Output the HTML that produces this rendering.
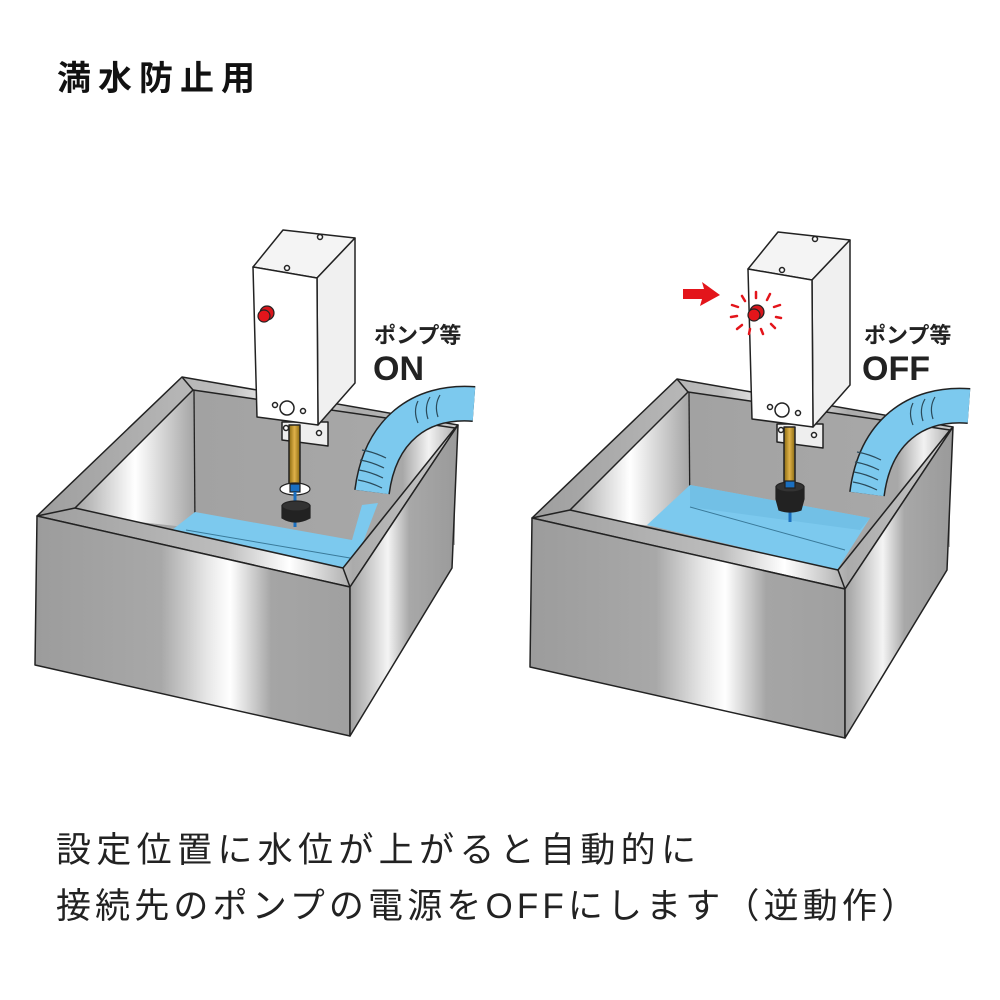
<!DOCTYPE html>
<html><head><meta charset="utf-8"><style>
html,body{margin:0;padding:0;background:#fff}
svg{display:block}
text{font-family:"Liberation Sans","Noto Sans CJK JP",sans-serif}
</style></head><body>
<svg width="1000" height="1000" viewBox="0 0 1000 1000" xmlns="http://www.w3.org/2000/svg">
<defs>
<linearGradient id="front" x1="0" y1="0" x2="1" y2="0">
<stop offset="0" stop-color="#9c9c9c"/><stop offset="0.4" stop-color="#a8a8a8"/><stop offset="0.55" stop-color="#e8e8e8"/><stop offset="0.62" stop-color="#ffffff"/><stop offset="0.75" stop-color="#a5a5a5"/><stop offset="1" stop-color="#a0a0a0"/>
</linearGradient>
<linearGradient id="side" x1="0" y1="0" x2="1" y2="0">
<stop offset="0" stop-color="#a0a0a0"/><stop offset="0.35" stop-color="#f4f4f4"/><stop offset="0.55" stop-color="#a8a8a8"/><stop offset="1" stop-color="#9a9a9a"/>
</linearGradient>
<linearGradient id="rim" x1="0" y1="0" x2="1" y2="0">
<stop offset="0" stop-color="#9e9e9e"/><stop offset="0.45" stop-color="#bdbdbd"/><stop offset="0.6" stop-color="#ffffff"/><stop offset="0.75" stop-color="#ababab"/><stop offset="1" stop-color="#c8c8c8"/>
</linearGradient>
<linearGradient id="lwall" x1="0" y1="0" x2="1" y2="0">
<stop offset="0" stop-color="#a4a4a4"/><stop offset="0.5" stop-color="#ffffff"/><stop offset="1" stop-color="#a4a4a4"/>
</linearGradient>
<linearGradient id="bwall" x1="0" y1="0" x2="1" y2="0">
<stop offset="0" stop-color="#a2a2a2"/><stop offset="0.8" stop-color="#a8a8a8"/><stop offset="0.9" stop-color="#f2f2f2"/><stop offset="1" stop-color="#b0b0b0"/>
</linearGradient>
<linearGradient id="gold" x1="0" y1="0" x2="1" y2="0">
<stop offset="0" stop-color="#8a6a10"/><stop offset="0.5" stop-color="#e0b24a"/><stop offset="1" stop-color="#8a6a10"/>
</linearGradient>
<g id="interior">
<polygon points="193,390 455,428 343,568 75,508" fill="#a5a5a5"/>
<polygon points="193,390 455,428 455,545 195,528" fill="url(#bwall)"/>
<polygon points="193,390 195,528 120,520 75,508" fill="url(#lwall)"/>
<line x1="194" y1="390" x2="195" y2="528" stroke="#222" stroke-width="1.3"/>
</g>
<g id="exterior" stroke="#222" stroke-width="1.5" stroke-linejoin="round">
<polygon points="182,377 458,425 455,428 193,390 75,508 343,568 455,428 458,425 350,587 37,516" fill="url(#rim)" fill-rule="evenodd"/>
<line x1="182" y1="377" x2="193" y2="390"/>
<line x1="37" y1="516" x2="75" y2="508"/>
<line x1="350" y1="587" x2="343" y2="568"/>
<polygon points="37,516 350,587 350,736 35,665" fill="url(#front)"/>
<polygon points="350,587 458,425 452,568 350,736" fill="url(#side)"/>
</g>
<g id="device" stroke="#222" stroke-width="1.5" stroke-linejoin="round">
<polygon points="282,422 328,422 328,446 282,440" fill="#eee"/>
<circle cx="286" cy="428" r="2.5" fill="#fff"/><circle cx="319" cy="433" r="2.5" fill="#fff"/>
<rect x="289" y="425" width="11" height="60" fill="url(#gold)"/>
<polygon points="253,267 283,230 355,238 317,278" fill="#f4f4f4"/>
<polygon points="317,278 355,238 355,383 318,425" fill="#f0f0f0"/>
<polygon points="253,267 317,278 318,425 257,417" fill="#fff"/>
<circle cx="320" cy="237" r="2.5" fill="#fff"/><circle cx="287" cy="268" r="2.5" fill="#fff"/>
<circle cx="287" cy="408" r="7" fill="#fff"/>
<circle cx="275" cy="405" r="2.5" fill="#fff"/><circle cx="303" cy="411" r="2.5" fill="#fff"/>
</g>
</defs>

<text x="57" y="90" font-size="34" font-weight="bold" fill="#111" textLength="198">満水防止用</text>

<!-- LEFT -->
<use href="#interior"/>
<polygon points="172,530 195,512 352,540 362,505 378,503 362,545 343,568" fill="#7cc9ee"/>
<line x1="186" y1="530" x2="350" y2="558" stroke="#3a7a9a" stroke-width="1"/>
<use href="#exterior"/>
<use href="#device"/>
<g stroke="#222" stroke-width="1.2">
<circle cx="267" cy="313" r="7" fill="#d9161c"/><circle cx="264" cy="316" r="6" fill="#e3151b"/>
<ellipse cx="295" cy="489" rx="15" ry="6" fill="#fff"/>
<rect x="290" y="484" width="10" height="8" fill="#1a6fc0"/>
<line x1="295" y1="492" x2="295" y2="527" stroke="#1a6fc0" stroke-width="3"/>
<path d="M282,506 L282,518 Q295,526 310,518 L310,506 Z" fill="#222"/>
<ellipse cx="296" cy="506" rx="14" ry="5" fill="#333"/>
</g>
<path d="M474,404 C420,400 380,430 372,492" fill="none" stroke="#222" stroke-width="36"/>
<path d="M474,404 C420,400 380,430 372,492" fill="none" stroke="#7cc9ee" stroke-width="33"/>
<g fill="none" stroke="#2a4a5a" stroke-width="1.2">
<path d="M440,395 q-6,10 -2,22"/><path d="M430,397 q-6,10 -2,22"/><path d="M418,401 q-5,10 0,22"/>
<path d="M362,450 q12,2 24,8"/><path d="M360,460 q12,2 24,8"/><path d="M359,470 q12,2 24,8"/><path d="M358,480 q12,2 24,8"/>
</g>
<text x="374" y="343" font-size="22" font-weight="bold" fill="#222">ポンプ等</text>
<text x="373" y="380" font-size="34" font-weight="bold" fill="#222">ON</text>

<!-- RIGHT -->
<g transform="translate(495,2)">
<use href="#interior"/>
<polygon points="152,523 195,483 375,516 342,568" fill="#7cc9ee"/>
<polygon points="195,483 375,516 365,528 195,505" fill="#72c0e6"/>
<line x1="195" y1="505" x2="350" y2="548" stroke="#3a7a9a" stroke-width="1"/>
<use href="#exterior"/>
<use href="#device"/>
<g stroke="#222" stroke-width="1.2">
<line x1="295" y1="505" x2="295" y2="520" stroke="#1a6fc0" stroke-width="3"/>
<path d="M281,485 L281,497 L284,508 Q295,512 306,508 L309,497 L309,485 Z" fill="#222"/>
<ellipse cx="295" cy="485" rx="14" ry="5" fill="#333"/>
<rect x="290" y="479" width="10" height="7" fill="#1a6fc0"/>
<circle cx="262" cy="310" r="7" fill="#d9161c"/><circle cx="259" cy="313" r="6" fill="#e3151b"/>
</g>
<g stroke="#e3151b" stroke-width="2.5" stroke-linecap="round">
<line x1="261" y1="290" x2="261" y2="296"/><line x1="247" y1="294" x2="250" y2="299"/><line x1="237" y1="303" x2="243" y2="305"/>
<line x1="236" y1="315" x2="242" y2="314"/><line x1="242" y1="327" x2="247" y2="323"/><line x1="254" y1="332" x2="255" y2="327"/>
<line x1="268" y1="332" x2="266" y2="327"/><line x1="280" y1="326" x2="276" y2="322"/><line x1="286" y1="316" x2="281" y2="315"/>
<line x1="285" y1="303" x2="279" y2="305"/><line x1="275" y1="292" x2="272" y2="298"/>
</g>
<path d="M474,404 C420,400 380,430 372,492" fill="none" stroke="#222" stroke-width="36"/>
<path d="M474,404 C420,400 380,430 372,492" fill="none" stroke="#7cc9ee" stroke-width="33"/>
<g fill="none" stroke="#2a4a5a" stroke-width="1.2">
<path d="M440,395 q-6,10 -2,22"/><path d="M430,397 q-6,10 -2,22"/><path d="M418,401 q-5,10 0,22"/>
<path d="M362,450 q12,2 24,8"/><path d="M360,460 q12,2 24,8"/><path d="M359,470 q12,2 24,8"/><path d="M358,480 q12,2 24,8"/>
</g>
</g>
<polygon points="683,289 704,289 702,282 720,295 700,306 702,299 683,299" fill="#e3151b"/>
<text x="864" y="343" font-size="22" font-weight="bold" fill="#222">ポンプ等</text>
<text x="862" y="380" font-size="34" font-weight="bold" fill="#222">OFF</text>

<text x="56" y="862" font-size="35" fill="#222" textLength="640">設定位置に水位が上がると自動的に</text>
<text x="56" y="918" font-size="35" fill="#222" textLength="860">接続先のポンプの電源をOFFにします（逆動作）</text>
</svg>
</body></html>
